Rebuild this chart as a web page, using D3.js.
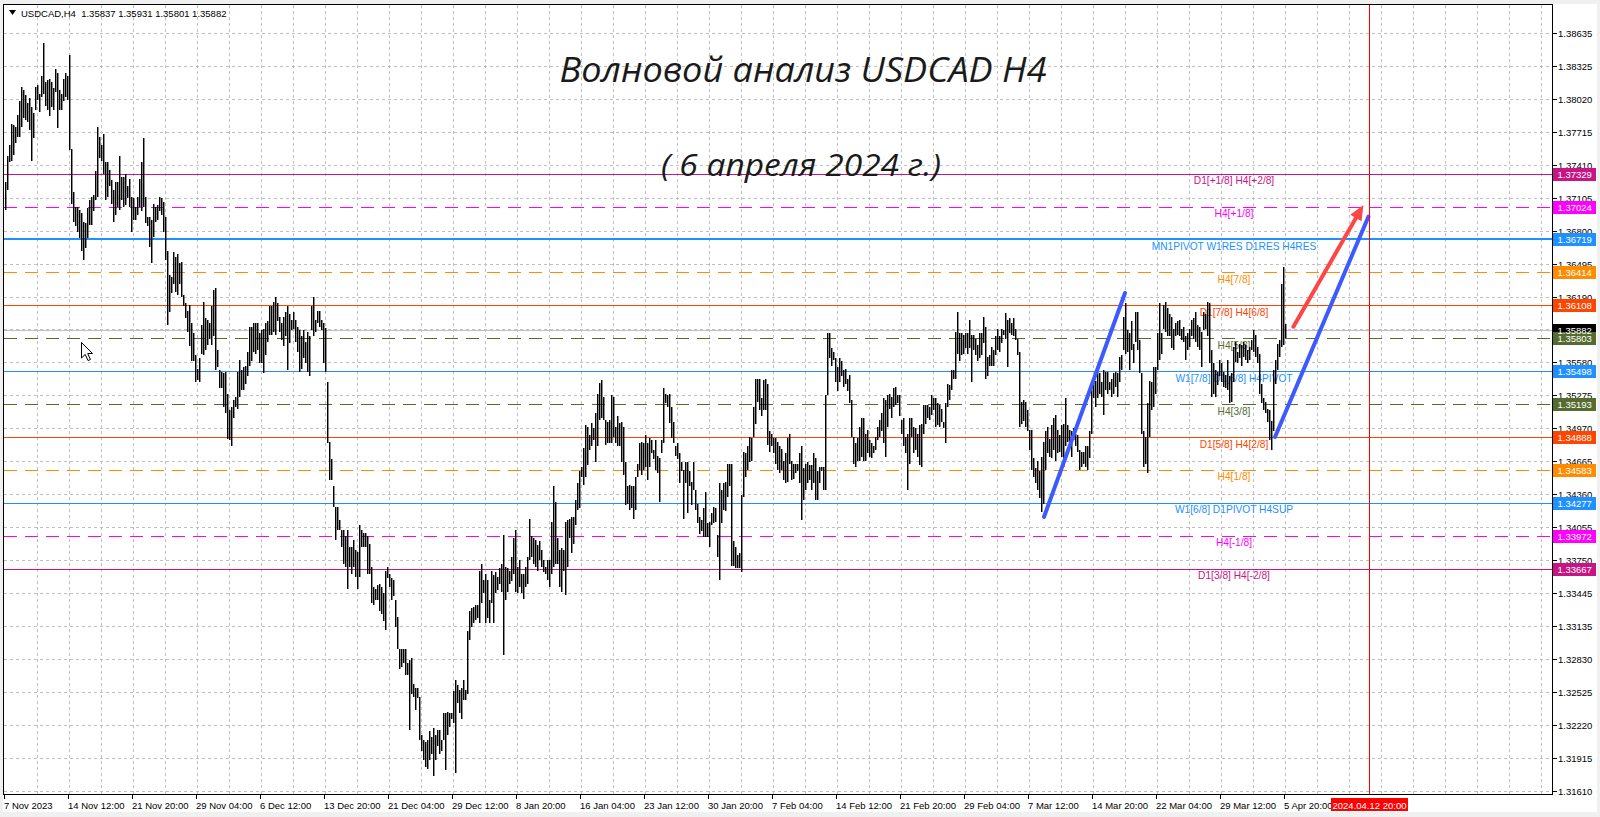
<!DOCTYPE html>
<html><head><meta charset="utf-8">
<script src="https://cdn.jsdelivr.net/npm/d3@7"></script>
<style>
html,body{margin:0;padding:0;background:#f0f0f0;}
svg{display:block;}
</style></head><body>
<svg id="chart" width="1600" height="817"></svg>
<script>
// ---------------- DATA ----------------
const symbolName = "USDCAD,H4";
const lastOpen = 1.35837, lastClose = 1.35882;

// H4 bar highs, 7 Nov 2023 .. 5 Apr 2024 20:00 (10 bars per row)
const highs = [
1.3725,1.3749,1.3759,1.3779,1.3778,1.3776,1.3787,1.3800,1.3813,1.3810,
1.3806,1.3798,1.3803,1.3795,1.3789,1.3813,1.3815,1.3807,1.3823,1.3854,
1.3818,1.3820,1.3821,1.3818,1.3812,1.3830,1.3826,1.3810,1.3807,1.3821,
1.3826,1.3823,1.3843,1.3756,1.3716,1.3702,1.3702,1.3699,1.3696,1.3688,
1.3687,1.3701,1.3708,1.3711,1.3713,1.3735,1.3776,1.3767,1.3759,1.3770,
1.3744,1.3744,1.3736,1.3727,1.3718,1.3725,1.3725,1.3749,1.3730,1.3730,
1.3733,1.3721,1.3728,1.3711,1.3710,1.3702,1.3711,1.3728,1.3744,1.3766,
1.3711,1.3693,1.3693,1.3690,1.3705,1.3702,1.3704,1.3711,1.3710,1.3707,
1.3693,1.3661,1.3639,1.3637,1.3660,1.3656,1.3658,1.3650,1.3651,1.3620,
1.3613,1.3606,1.3611,1.3594,1.3585,1.3565,1.3552,1.3562,1.3593,1.3614,
1.3599,1.3597,1.3594,1.3610,1.3625,1.3627,1.3569,1.3551,1.3549,1.3548,
1.3549,1.3529,1.3514,1.3517,1.3523,1.3526,1.3549,1.3560,1.3551,1.3554,
1.3555,1.3568,1.3591,1.3591,1.3594,1.3594,1.3594,1.3585,1.3588,1.3589,
1.3594,1.3596,1.3610,1.3610,1.3614,1.3619,1.3613,1.3600,1.3594,1.3600,
1.3605,1.3610,1.3603,1.3597,1.3605,1.3597,1.3591,1.3588,1.3582,1.3588,
1.3577,1.3586,1.3582,1.3610,1.3619,1.3597,1.3606,1.3606,1.3597,1.3594,
1.3590,1.3540,1.3484,1.3468,1.3443,1.3424,1.3424,1.3412,1.3403,1.3403,
1.3397,1.3403,1.3387,1.3387,1.3393,1.3384,1.3382,1.3407,1.3403,1.3400,
1.3400,1.3397,1.3390,1.3368,1.3350,1.3348,1.3352,1.3353,1.3350,1.3344,
1.3365,1.3368,1.3362,1.3358,1.3356,1.3338,1.3322,1.3292,1.3292,1.3292,
1.3292,1.3279,1.3282,1.3284,1.3260,1.3256,1.3256,1.3248,1.3213,1.3208,
1.3206,1.3208,1.3216,1.3211,1.3219,1.3213,1.3217,1.3217,1.3208,1.3233,
1.3233,1.3234,1.3233,1.3233,1.3253,1.3264,1.3259,1.3254,1.3256,1.3264,
1.3254,1.3309,1.3328,1.3330,1.3331,1.3333,1.3333,1.3365,1.3371,1.3356,
1.3362,1.3356,1.3338,1.3365,1.3361,1.3364,1.3359,1.3367,1.3371,1.3398,
1.3368,1.3367,1.3365,1.3378,1.3395,1.3403,1.3368,1.3375,1.3362,1.3362,
1.3368,1.3378,1.3413,1.3397,1.3395,1.3393,1.3389,1.3392,1.3384,1.3375,
1.3368,1.3375,1.3375,1.3410,1.3443,1.3429,1.3395,1.3384,1.3386,1.3384,
1.3410,1.3412,1.3413,1.3415,1.3415,1.3430,1.3446,1.3457,1.3461,1.3479,
1.3500,1.3498,1.3491,1.3502,1.3497,1.3511,1.3529,1.3539,1.3542,1.3526,
1.3505,1.3503,1.3505,1.3528,1.3526,1.3498,1.3508,1.3502,1.3503,1.3498,
1.3466,1.3443,1.3444,1.3443,1.3443,1.3452,1.3464,1.3483,1.3484,1.3483,
1.3491,1.3483,1.3488,1.3486,1.3477,1.3486,1.3471,1.3469,1.3486,1.3534,
1.3529,1.3528,1.3529,1.3517,1.3503,1.3480,1.3483,1.3474,1.3466,1.3458,
1.3466,1.3466,1.3457,1.3447,1.3466,1.3440,1.3427,1.3415,1.3412,1.3423,
1.3438,1.3409,1.3410,1.3418,1.3424,1.3423,1.3398,1.3446,1.3440,1.3446,
1.3447,1.3464,1.3464,1.3464,1.3392,1.3387,1.3379,1.3381,1.3435,1.3475,
1.3474,1.3480,1.3489,1.3488,1.3517,1.3543,1.3543,1.3543,1.3525,1.3542,
1.3543,1.3538,1.3494,1.3492,1.3488,1.3488,1.3484,1.3480,1.3478,1.3467,
1.3474,1.3488,1.3492,1.3467,1.3464,1.3464,1.3464,1.3474,1.3480,1.3460,
1.3464,1.3466,1.3463,1.3463,1.3474,1.3469,1.3457,1.3461,1.3461,1.3461,
1.3528,1.3585,1.3585,1.3571,1.3568,1.3562,1.3554,1.3562,1.3559,1.3551,
1.3552,1.3543,1.3546,1.3523,1.3489,1.3483,1.3488,1.3498,1.3506,1.3506,
1.3492,1.3495,1.3486,1.3483,1.3480,1.3489,1.3498,1.3505,1.3511,1.3525,
1.3523,1.3528,1.3529,1.3526,1.3534,1.3535,1.3528,1.3528,1.3505,1.3506,
1.3489,1.3492,1.3506,1.3506,1.3498,1.3497,1.3492,1.3500,1.3501,1.3518,
1.3518,1.3518,1.3517,1.3528,1.3525,1.3525,1.3520,1.3518,1.3515,1.3503,
1.3520,1.3538,1.3537,1.3551,1.3551,1.3586,1.3605,1.3585,1.3585,1.3583,
1.3585,1.3585,1.3597,1.3583,1.3583,1.3580,1.3574,1.3585,1.3585,1.3600,
1.3591,1.3563,1.3565,1.3572,1.3569,1.3582,1.3589,1.3582,1.3589,1.3588,
1.3604,1.3597,1.3599,1.3594,1.3599,1.3589,1.3580,1.3568,1.3521,1.3523,
1.3521,1.3514,1.3495,1.3495,1.3469,1.3460,1.3467,1.3457,1.3470,1.3484,
1.3494,1.3498,1.3487,1.3500,1.3506,1.3509,1.3495,1.3491,1.3500,1.3501,
1.3525,1.3500,1.3495,1.3494,1.3497,1.3492,1.3491,1.3477,1.3475,1.3475,
1.3480,1.3480,1.3494,1.3535,1.3543,1.3541,1.3549,1.3548,1.3540,1.3551,
1.3549,1.3549,1.3540,1.3543,1.3548,1.3549,1.3548,1.3563,1.3565,1.3600,
1.3613,1.3588,1.3585,1.3596,1.3575,1.3605,1.3605,1.3579,1.3548,1.3494,
1.3489,1.3520,1.3541,1.3540,1.3554,1.3554,1.3585,1.3613,1.3585,1.3611,
1.3614,1.3608,1.3603,1.3600,1.3589,1.3594,1.3596,1.3597,1.3589,1.3591,
1.3582,1.3585,1.3589,1.3597,1.3599,1.3605,1.3593,1.3591,1.3586,1.3605,
1.3603,1.3614,1.3613,1.3569,1.3557,1.3551,1.3549,1.3560,1.3557,1.3549,
1.3546,1.3560,1.3545,1.3548,1.3572,1.3577,1.3568,1.3575,1.3574,1.3577,
1.3574,1.3569,1.3572,1.3579,1.3588,1.3583,1.3572,1.3566,1.3538,1.3525,
1.3521,1.3515,1.3514,1.3504,1.3551,1.3560,1.3575,1.3579,1.3631,1.3646,
1.35931];

// H4 bar lows (same order)
const lows = [
1.3699,1.3718,1.3744,1.3745,1.3750,1.3761,1.3767,1.3767,1.3776,1.3784,
1.3783,1.3781,1.3773,1.3745,1.3766,1.3792,1.3801,1.3790,1.3804,1.3807,
1.3796,1.3792,1.3786,1.3795,1.3792,1.3809,1.3775,1.3792,1.3792,1.3800,
1.3804,1.3801,1.3755,1.3705,1.3688,1.3684,1.3679,1.3673,1.3661,1.3653,
1.3664,1.3673,1.3685,1.3685,1.3698,1.3708,1.3711,1.3747,1.3745,1.3733,
1.3708,1.3711,1.3721,1.3705,1.3688,1.3695,1.3702,1.3699,1.3708,1.3702,
1.3704,1.3710,1.3702,1.3679,1.3690,1.3690,1.3695,1.3702,1.3698,1.3702,
1.3687,1.3684,1.3665,1.3650,1.3674,1.3688,1.3690,1.3698,1.3695,1.3679,
1.3653,1.3593,1.3605,1.3622,1.3631,1.3623,1.3620,1.3631,1.3619,1.3610,
1.3599,1.3586,1.3573,1.3559,1.3559,1.3540,1.3542,1.3540,1.3566,1.3565,
1.3569,1.3574,1.3580,1.3574,1.3582,1.3551,1.3554,1.3534,1.3534,1.3517,
1.3511,1.3487,1.3486,1.3480,1.3506,1.3517,1.3515,1.3526,1.3532,1.3532,
1.3538,1.3545,1.3555,1.3559,1.3568,1.3566,1.3569,1.3557,1.3557,1.3548,
1.3565,1.3577,1.3583,1.3583,1.3586,1.3583,1.3596,1.3586,1.3579,1.3573,
1.3582,1.3551,1.3576,1.3588,1.3589,1.3577,1.3568,1.3549,1.3552,1.3562,
1.3557,1.3549,1.3545,1.3588,1.3582,1.3586,1.3594,1.3591,1.3588,1.3557,
1.3549,1.3483,1.3449,1.3449,1.3424,1.3393,1.3403,1.3403,1.3387,1.3371,
1.3368,1.3348,1.3368,1.3362,1.3368,1.3359,1.3348,1.3359,1.3387,1.3387,
1.3387,1.3362,1.3362,1.3335,1.3333,1.3338,1.3338,1.3328,1.3325,1.3318,
1.3310,1.3358,1.3350,1.3338,1.3341,1.3313,1.3292,1.3274,1.3276,1.3279,
1.3268,1.3268,1.3217,1.3251,1.3248,1.3236,1.3247,1.3208,1.3198,1.3189,
1.3183,1.3181,1.3189,1.3195,1.3175,1.3189,1.3202,1.3195,1.3198,1.3208,
1.3180,1.3213,1.3220,1.3227,1.3224,1.3177,1.3242,1.3233,1.3227,1.3245,
1.3245,1.3251,1.3301,1.3313,1.3316,1.3319,1.3321,1.3316,1.3335,1.3344,
1.3316,1.3321,1.3316,1.3335,1.3316,1.3344,1.3347,1.3353,1.3345,1.3287,
1.3338,1.3345,1.3353,1.3355,1.3362,1.3345,1.3344,1.3350,1.3344,1.3339,
1.3350,1.3353,1.3375,1.3378,1.3371,1.3368,1.3365,1.3375,1.3368,1.3364,
1.3362,1.3356,1.3350,1.3362,1.3368,1.3371,1.3371,1.3350,1.3345,1.3365,
1.3342,1.3368,1.3395,1.3381,1.3390,1.3407,1.3421,1.3423,1.3452,1.3444,
1.3452,1.3463,1.3477,1.3480,1.3486,1.3466,1.3480,1.3505,1.3506,1.3505,
1.3481,1.3483,1.3483,1.3483,1.3489,1.3483,1.3480,1.3480,1.3466,1.3454,
1.3426,1.3427,1.3421,1.3423,1.3413,1.3421,1.3452,1.3458,1.3454,1.3458,
1.3461,1.3449,1.3461,1.3474,1.3468,1.3458,1.3455,1.3429,1.3474,1.3483,
1.3520,1.3517,1.3502,1.3488,1.3483,1.3471,1.3468,1.3446,1.3457,1.3413,
1.3446,1.3418,1.3443,1.3426,1.3440,1.3421,1.3409,1.3399,1.3402,1.3396,
1.3396,1.3396,1.3387,1.3407,1.3409,1.3410,1.3378,1.3356,1.3409,1.3421,
1.3420,1.3433,1.3443,1.3369,1.3369,1.3367,1.3367,1.3367,1.3364,1.3433,
1.3452,1.3458,1.3466,1.3467,1.3489,1.3501,1.3521,1.3514,1.3508,1.3514,
1.3514,1.3481,1.3475,1.3480,1.3474,1.3464,1.3458,1.3455,1.3458,1.3449,
1.3446,1.3447,1.3464,1.3449,1.3450,1.3455,1.3457,1.3446,1.3412,1.3430,
1.3440,1.3446,1.3449,1.3440,1.3446,1.3430,1.3430,1.3446,1.3457,1.3440,
1.3440,1.3528,1.3562,1.3555,1.3560,1.3540,1.3531,1.3540,1.3545,1.3535,
1.3538,1.3531,1.3520,1.3489,1.3464,1.3461,1.3467,1.3467,1.3470,1.3467,
1.3467,1.3474,1.3470,1.3469,1.3474,1.3477,1.3486,1.3489,1.3494,1.3483,
1.3470,1.3498,1.3515,1.3506,1.3517,1.3518,1.3520,1.3508,1.3492,1.3480,
1.3474,1.3440,1.3464,1.3489,1.3474,1.3477,1.3470,1.3463,1.3461,1.3492,
1.3501,1.3506,1.3505,1.3509,1.3514,1.3498,1.3500,1.3498,1.3503,1.3497,
1.3483,1.3517,1.3523,1.3532,1.3543,1.3543,1.3566,1.3559,1.3565,1.3566,
1.3571,1.3566,1.3571,1.3540,1.3569,1.3565,1.3559,1.3562,1.3565,1.3576,
1.3543,1.3545,1.3555,1.3555,1.3555,1.3565,1.3569,1.3568,1.3576,1.3583,
1.3580,1.3554,1.3585,1.3583,1.3582,1.3579,1.3565,1.3498,1.3501,1.3504,
1.3498,1.3494,1.3477,1.3458,1.3452,1.3446,1.3440,1.3432,1.3419,1.3427,
1.3458,1.3474,1.3470,1.3469,1.3477,1.3467,1.3474,1.3475,1.3470,1.3461,
1.3480,1.3484,1.3480,1.3470,1.3486,1.3480,1.3475,1.3458,1.3461,1.3464,
1.3461,1.3458,1.3469,1.3492,1.3525,1.3517,1.3525,1.3529,1.3526,1.3509,
1.3532,1.3529,1.3532,1.3526,1.3529,1.3535,1.3526,1.3540,1.3551,1.3569,
1.3566,1.3568,1.3551,1.3569,1.3557,1.3577,1.3569,1.3548,1.3492,1.3461,
1.3464,1.3455,1.3489,1.3514,1.3517,1.3529,1.3551,1.3560,1.3566,1.3589,
1.3586,1.3582,1.3582,1.3571,1.3569,1.3582,1.3583,1.3582,1.3579,1.3577,
1.3560,1.3569,1.3572,1.3582,1.3580,1.3577,1.3572,1.3569,1.3554,1.3588,
1.3589,1.3582,1.3557,1.3526,1.3529,1.3526,1.3537,1.3545,1.3540,1.3535,
1.3534,1.3532,1.3520,1.3521,1.3540,1.3558,1.3557,1.3562,1.3555,1.3563,
1.3560,1.3557,1.3560,1.3569,1.3568,1.3563,1.3557,1.3529,1.3520,1.3514,
1.3511,1.3503,1.3486,1.3477,1.3494,1.3538,1.3551,1.3563,1.3572,1.3574,
1.35801];

// price axis labels
const priceTicks = [1.38635,1.38325,1.38020,1.37715,1.37410,1.37105,1.36800,1.36495,1.36190,1.35885,
  1.35580,1.35275,1.34970,1.34665,1.34360,1.34055,1.33750,1.33445,1.33135,1.32830,1.32525,1.32220,1.31915,1.31610];

// time axis labels, one every 32 bars
const timeLabels = ["7 Nov 2023","14 Nov 12:00","21 Nov 20:00","29 Nov 04:00","6 Dec 12:00","13 Dec 20:00",
  "21 Dec 04:00","29 Dec 12:00","8 Jan 20:00","16 Jan 04:00","23 Jan 12:00","30 Jan 20:00","7 Feb 04:00",
  "14 Feb 12:00","21 Feb 20:00","29 Feb 04:00","7 Mar 12:00","14 Mar 20:00","22 Mar 04:00","29 Mar 12:00","5 Apr 20:00"];
const barsPerLabel = 32;

// Murrey / pivot levels
const levelPrices = [1.37329,1.37024,1.36719,1.36414,1.36108,1.35803,1.35498,1.35193,1.34888,1.34583,1.34277,1.33972,1.33667];
const levelNames = ["D1[+1/8] H4[+2/8]","H4[+1/8]","MN1PIVOT W1RES D1RES H4RES","H4[7/8]","D1[7/8] H4[6/8]","H4[5/8]",
  "W1[7/8] D1[6/8] H4PIVOT","H4[3/8]","D1[5/8] H4[2/8]","H4[1/8]","W1[6/8] D1PIVOT H4SUP","H4[-1/8]","D1[3/8] H4[-2/8]"];

// future marker: 2024.04.12 20:00 (42 bar-steps after last bar, calendar time)
const futureLabel = "2024.04.12 20:00";
const futureStep = 42;

// drawn wave lines [barIndex, price]
const waveUp1 = [[519.5, 1.34147],[560, 1.36223]];
const waveUp2 = [[635, 1.34888],[681.7, 1.36930]];
const forecastArrow = [[644.2, 1.35910],[679.2, 1.37038]];

const titleText = "Волновой анализ USDCAD H4";
const subtitleText = "( 6 апреля 2024 г.)";

// ---------------- DRAWING ----------------
const svg = d3.select("#chart");
const N = highs.length;
const plotL = 3.5, plotT = 4.5, plotR = 1552.5, plotB = 794.5;
const x = d3.scaleLinear().domain([0, N - 1]).range([5, 5 + 2 * (N - 1)]);
const y = d3.scaleLinear().domain([1.31610, 1.38635]).range([790.7, 32.7]);
const axisFont = "'Liberation Sans', Arial, sans-serif";

// window background
svg.append("rect").attr("x", 0).attr("y", 0).attr("width", 1600).attr("height", 817).attr("fill", "#f0f0f0");
svg.append("rect").attr("x", 3).attr("y", 4).attr("width", 1594).attr("height", 808).attr("fill", "#ffffff");

// grid
const grid = svg.append("g").attr("stroke", "#c0c0c0").attr("stroke-width", 1).attr("stroke-dasharray", "3,3").attr("shape-rendering", "crispEdges");
grid.selectAll("line.h").data(priceTicks).join("line")
  .attr("x1", plotL).attr("x2", plotR)
  .attr("y1", d => Math.round(y(d)) + 0.5).attr("y2", d => Math.round(y(d)) + 0.5);
const vIdx = d3.range(16, 800, 16).filter(i => x(i) < plotR - 4);
grid.selectAll("line.v").data(vIdx).join("line")
  .attr("y1", plotT).attr("y2", plotB)
  .attr("x1", d => Math.round(x(d)) + 0.5).attr("x2", d => Math.round(x(d)) + 0.5);

// level styles
const levelColors = ["#C71585","#FF00FF","#1E90FF","#FF8C00","#FF4500","#556B2F","#1E90FF","#556B2F","#FF4500","#FF8C00","#1E90FF","#FF00FF","#C71585"];
const levelDashed = [0,1,0,1,0,1,0,1,0,1,0,1,0];
const levelWidth = [1,1,2,1,1,1,1,1,1,1,1,1,1];
const levels = levelPrices.map((p, k) => ({p, name: levelNames[k], c: levelColors[k], dash: levelDashed[k], w: levelWidth[k]}));

// bid line
svg.append("line").attr("x1", plotL).attr("x2", plotR)
  .attr("y1", Math.round(y(lastClose)) + 0.5).attr("y2", Math.round(y(lastClose)) + 0.5)
  .attr("stroke", "#c0c0c0").attr("shape-rendering", "crispEdges");

// level lines drawn as thin rects (solid or dashed) for exact pixel colour
const lv = svg.append("g").attr("shape-rendering", "crispEdges");
levels.forEach(d => {
  const yy = d.w === 2 ? Math.round(y(d.p)) - 1 : Math.round(y(d.p));
  if (!d.dash) {
    lv.append("rect").attr("x", plotL).attr("y", yy).attr("width", plotR - plotL).attr("height", d.w).attr("fill", d.c);
  } else {
    const starts = d3.range(plotL + 0.5, plotR, 21);
    lv.selectAll(null).data(starts).join("rect")
      .attr("x", s => s).attr("y", yy).attr("height", 1)
      .attr("width", s => Math.min(13, plotR - s)).attr("fill", d.c);
  }
});

svg.append("g").selectAll("text").data(levels).join("text")
  .attr("x", 1234).attr("y", d => y(d.p) + 7)
  .attr("text-anchor", "middle").attr("dominant-baseline", "central")
  .attr("font-family", axisFont).attr("font-size", "10.2px")
  .attr("fill", d => d.c).text(d => d.name);

// bars
const bars = svg.append("g").attr("fill", "#000");
bars.selectAll("rect").data(d3.range(N)).join("rect")
  .attr("x", i => Math.round(x(i)))
  .attr("width", 1.45)
  .attr("y", i => Math.round(y(highs[i])))
  .attr("height", i => Math.max(1, Math.round(y(lows[i])) - Math.round(y(highs[i]))));

// wave lines
const lineGen = d3.line().x(d => x(d[0])).y(d => y(d[1]));
[waveUp1, waveUp2].forEach(w => {
  svg.append("path").attr("d", lineGen(w)).attr("stroke", "#3D5AFE").attr("stroke-width", 4)
    .attr("stroke-linecap", "round").attr("fill", "none");
});
// forecast arrow
{
  const [a, b] = forecastArrow;
  const x1 = x(a[0]), y1 = y(a[1]), x2 = x(b[0]), y2 = y(b[1]);
  const ang = Math.atan2(y2 - y1, x2 - x1);
  const hl = 15, hw = 6.5;
  const bx = x2 - hl * Math.cos(ang), by = y2 - hl * Math.sin(ang);
  svg.append("line").attr("x1", x1).attr("y1", y1).attr("x2", bx).attr("y2", by)
    .attr("stroke", "#FF4545").attr("stroke-width", 4).attr("stroke-linecap", "round");
  svg.append("path").attr("fill", "#FF4545")
    .attr("d", `M${x2},${y2} L${bx + hw * Math.sin(ang)},${by - hw * Math.cos(ang)} L${bx - hw * Math.sin(ang)},${by + hw * Math.cos(ang)} Z`);
}

// future vertical line
const futIdx = N - 1 + futureStep;
svg.append("line").attr("x1", Math.round(x(futIdx)) + 0.5).attr("x2", Math.round(x(futIdx)) + 0.5)
  .attr("y1", plotT).attr("y2", plotB).attr("stroke", "#FF0000").attr("shape-rendering", "crispEdges");

// titles
svg.append("text").attr("x", 803).attr("y", 82).attr("text-anchor", "middle")
  .attr("font-family", "'Open Sans', sans-serif").attr("font-style", "italic").attr("font-size", "35px")
  .attr("fill", "#1a1a1a").attr("textLength", 487).attr("lengthAdjust", "spacingAndGlyphs").text(titleText);
svg.append("text").attr("x", 801).attr("y", 176).attr("text-anchor", "middle")
  .attr("font-family", "'Open Sans', sans-serif").attr("font-style", "italic").attr("font-size", "31px")
  .attr("fill", "#1a1a1a").attr("textLength", 280).attr("lengthAdjust", "spacingAndGlyphs").text(subtitleText);

// plot frame
svg.append("rect").attr("x", plotL).attr("y", plotT).attr("width", plotR - plotL).attr("height", plotB - plotT)
  .attr("fill", "none").attr("stroke", "#000").attr("shape-rendering", "crispEdges");

// price axis
const pa = svg.append("g");
pa.selectAll("line").data(priceTicks).join("line")
  .attr("x1", plotR).attr("x2", plotR + 4)
  .attr("y1", d => Math.round(y(d)) + 0.5).attr("y2", d => Math.round(y(d)) + 0.5)
  .attr("stroke", "#000").attr("shape-rendering", "crispEdges");
pa.selectAll("text").data(priceTicks).join("text")
  .attr("x", 1558).attr("y", d => y(d) + 0.5).attr("dominant-baseline", "central")
  .attr("font-family", axisFont).attr("font-size", "9.5px").attr("fill", "#000")
  .text(d => d.toFixed(5));

// bid box then level boxes
const boxes = [{p: lastClose, c: "#000000"}].concat(levels.map(l => ({p: l.p, c: l.c})));
const bx = svg.append("g");
bx.selectAll("rect").data(boxes).join("rect")
  .attr("x", 1553).attr("width", 43).attr("y", d => Math.round(y(d.p)) - 6).attr("height", 13)
  .attr("fill", d => d.c).attr("shape-rendering", "crispEdges");
bx.selectAll("text").data(boxes).join("text")
  .attr("x", 1557.5).attr("y", d => Math.round(y(d.p)) + 0.8).attr("dominant-baseline", "central")
  .attr("font-family", axisFont).attr("font-size", "9.5px").attr("fill", "#fff")
  .text(d => d.p.toFixed(5));

// time axis
const ta = svg.append("g");
ta.selectAll("line").data(timeLabels).join("line")
  .attr("x1", (d, k) => Math.round(x(k * barsPerLabel)) - 0.5).attr("x2", (d, k) => Math.round(x(k * barsPerLabel)) - 0.5)
  .attr("y1", plotB).attr("y2", plotB + 4).attr("stroke", "#000").attr("shape-rendering", "crispEdges");
ta.selectAll("text").data(timeLabels).join("text")
  .attr("x", (d, k) => x(k * barsPerLabel) - 1).attr("y", 805).attr("dominant-baseline", "central")
  .attr("font-family", axisFont).attr("font-size", "9.5px").attr("fill", "#000").text(d => d);
svg.append("rect").attr("x", x(futIdx) - 38).attr("y", 798).attr("width", 77).attr("height", 13).attr("fill", "#FF0000");
svg.append("text").attr("x", x(futIdx) + 0.5).attr("y", 805).attr("text-anchor", "middle").attr("dominant-baseline", "central")
  .attr("font-family", axisFont).attr("font-size", "9.5px").attr("fill", "#fff").text(futureLabel);

// header
svg.append("path").attr("d", "M9,10 L16,10 L12.5,15 Z").attr("fill", "#000");
svg.append("text").attr("x", 21).attr("y", 13).attr("dominant-baseline", "central")
  .attr("font-family", axisFont).attr("font-size", "9.5px").attr("fill", "#000")
  .text(`${symbolName}  ${lastOpen.toFixed(5)} ${highs[N - 1].toFixed(5)} ${lows[N - 1].toFixed(5)} ${lastClose.toFixed(5)}`)
  .attr("xml:space", "preserve").style("white-space", "pre");

// mouse cursor
svg.append("path").attr("transform", "translate(81,342)")
  .attr("d", "M0.5,0.5 L0.5,16 L4.2,12.4 L7,18.6 L9.4,17.5 L6.7,11.5 L11.5,11.5 Z")
  .attr("fill", "#fff").attr("stroke", "#000").attr("stroke-width", 1);
</script>
</body></html>
